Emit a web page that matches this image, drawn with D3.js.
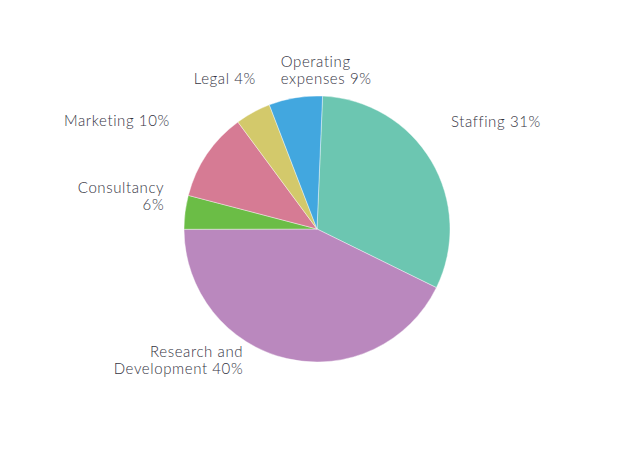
<!DOCTYPE html>
<html>
<head>
<meta charset="utf-8">
<script src="https://cdn.jsdelivr.net/npm/d3@7"></script>
<style>
  body { margin: 0; background: #fff; }
  svg text { font-family: Lato, "Open Sans", sans-serif; font-weight: 300; font-size: 15px; fill: #34343f; letter-spacing: 0.6px; }
</style>
</head>
<body>
<svg id="chart" width="640" height="466"></svg>
<script>
// slice sizes as drawn (share of the circle), clockwise from the top
var categories = ["Staffing", "Research and Development", "Consultancy", "Marketing", "Legal", "Operating expenses"];
var values = [31.6, 42.7, 4.1, 10.8, 4.3, 6.5];
// label text as printed on the chart
var labelLines = [
  ["Staffing 31%"],
  ["Research and", "Development 40%"],
  ["Consultancy", "6%"],
  ["Marketing 10%"],
  ["Legal 4%"],
  ["Operating", "expenses 9%"]
];
var colors = ["#6cc6b1", "#ba88be", "#6bbd46", "#d67b94", "#d3c96b", "#42a7df"];

// nudges from the label arc so text sits where the original put it
var labelNudge = [[5, -25], [-40, -18], [-4, -17], [-23, -19], [11, -13], [-12, -14]];
var labelAnchor = ["start", "end", "end", "end", "end", "start"];

var svg = d3.select("#chart");
var cx = 317, cy = 229, r = 133;

var pie = d3.pie()
  .sort(null)
  .value(function(d) { return d; })
  .startAngle(2.4 * Math.PI / 180)
  .endAngle(2 * Math.PI + 2.4 * Math.PI / 180);

var arc = d3.arc().innerRadius(0).outerRadius(r);
var labelArc = d3.arc().innerRadius(150).outerRadius(150);

var color = d3.scaleOrdinal().domain(categories).range(colors);

var g = svg.append("g").attr("transform", "translate(" + cx + "," + cy + ")");

var arcs = pie(values);

g.selectAll("path.slice")
  .data(arcs)
  .enter().append("path")
  .attr("class", "slice")
  .attr("d", arc)
  .style("fill", function(d, i) { return color(categories[i]); })
  .style("stroke", "#fff")
  .style("stroke-width", 0.4);

//labels
var lab = g.selectAll("text.lbl")
  .data(arcs)
  .enter().append("text")
  .attr("class", "lbl")
  .attr("text-anchor", function(d, i) { return labelAnchor[i]; })
  .attr("transform", function(d, i) {
    var c = labelArc.centroid(d);
    return "translate(" + (c[0] + labelNudge[i][0]) + "," + (c[1] + labelNudge[i][1]) + ")";
  });

lab.each(function(d, i) {
  var t = d3.select(this);
  labelLines[i].forEach(function(line, k) {
    t.append("tspan")
      .attr("x", 0)
      .attr("dy", k === 0 ? 0 : 17)
      .text(line);
  });
});
</script>
</body>
</html>
